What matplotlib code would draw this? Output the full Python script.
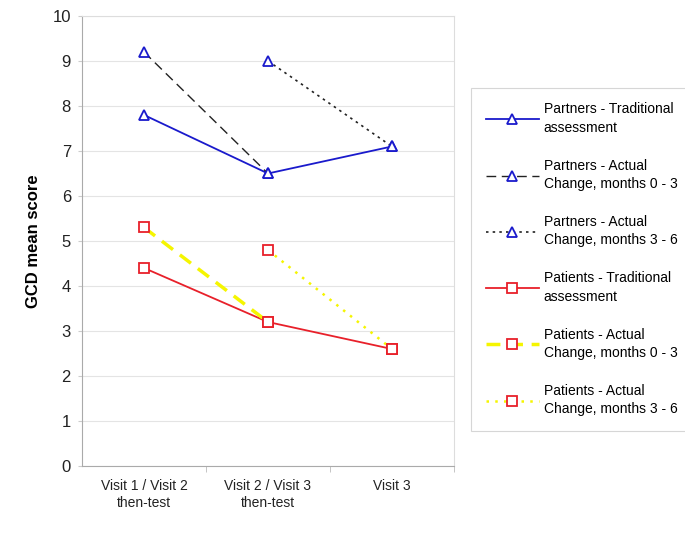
import numpy as np
import matplotlib
matplotlib.use("Agg")
import matplotlib.pyplot as plt

plt.rcParams['font.family'] = ['Liberation Sans', 'DejaVu Sans']

categories = ["Visit 1 / Visit 2\nthen-test", "Visit 2 / Visit 3\nthen-test", "Visit 3"]
nan = np.nan
partners_trad = [7.8, 6.5, 7.1]
partners_act_03 = [9.2, 6.5, nan]
partners_act_36 = [nan, 9.0, 7.1]
patients_trad = [4.4, 3.2, 2.6]
patients_act_03 = [5.3, 3.2, nan]
patients_act_36 = [nan, 4.8, 2.6]

labels = [
    "Partners - Traditional\nassessment",
    "Partners - Actual\nChange, months 0 - 3",
    "Partners - Actual\nChange, months 3 - 6",
    "Patients - Traditional\nassessment",
    "Patients - Actual\nChange, months 0 - 3",
    "Patients - Actual\nChange, months 3 - 6",
]

fig = plt.figure(figsize=(6.85, 5.39), dpi=100)
ax = fig.add_axes([0.1197, 0.1354, 0.543, 0.835])

x = np.arange(len(categories))
blue = '#1a1acc'
red = '#e8202a'
yellow = '#f5f500'
tri = dict(marker='^', markersize=7, markerfacecolor='white', markeredgecolor=blue, markeredgewidth=1.3)
sq = dict(marker='s', markersize=7, markerfacecolor='white', markeredgecolor=red, markeredgewidth=1.3)

h = []
h += ax.plot(x, partners_trad, color=blue, lw=1.3, label=labels[0], **tri)
h += ax.plot(x, partners_act_03, color='#222222', lw=1.0, ls=(0, (7, 4)), label=labels[1], **tri)
h += ax.plot(x, partners_act_36, color='#222222', lw=1.2, ls=(0, (1.5, 2.5)), label=labels[2], **tri)
h += ax.plot(x, patients_trad, color=red, lw=1.3, label=labels[3], **sq)
h += ax.plot(x, patients_act_03, color=yellow, lw=2.5, ls=(0, (4, 2.5)), label=labels[4], **sq)
h += ax.plot(x, patients_act_36, color=yellow, lw=1.8, ls=(0, (1, 2.5)), label=labels[5], **sq)

ax.set_xlim(-0.5, 2.5)
ax.set_ylim(0, 10)
ax.set_yticks(range(0, 11))
ax.set_xticks(x)
ax.set_xticklabels(categories, fontsize=10, color='#222222', linespacing=1.35)
ax.set_xticks([0.5, 1.5, 2.5], minor=True)
ax.tick_params(axis='x', which='major', length=0, pad=9)
ax.tick_params(axis='x', which='minor', length=4, color='#bbbbbb')
ax.tick_params(axis='y', labelsize=12, length=3, color='#cccccc', labelcolor='#222222', pad=5)
ax.yaxis.grid(True, color='#e4e4e4', lw=0.8)
ax.set_axisbelow(True)
for s in ['top', 'right']:
    ax.spines[s].set_color('#dddddd')
for s in ['left', 'bottom']:
    ax.spines[s].set_color('#aaaaaa')
ax.set_ylabel("GCD mean score", fontsize=12, fontweight='bold', labelpad=8)

leg = fig.legend(handles=h, loc='upper left', bbox_to_anchor=(0.688, 0.837),
                 fontsize=10, handlelength=3.8, labelspacing=1.72, frameon=True,
                 fancybox=False, edgecolor='#cccccc', borderpad=1.05, handletextpad=0.35,
                 borderaxespad=0)
leg.get_frame().set_linewidth(0.8)
for t in leg.get_texts():
    t.set_linespacing(1.4)

fig.savefig("out.png", dpi=100)
